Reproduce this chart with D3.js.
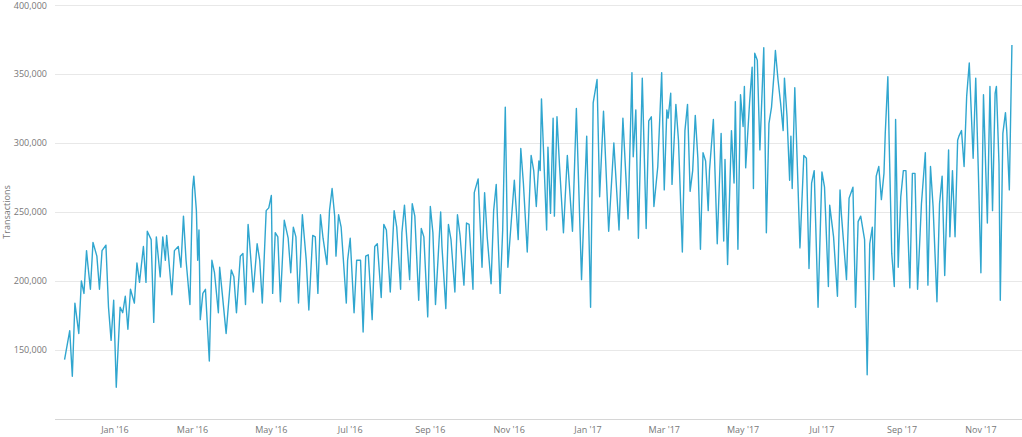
<!DOCTYPE html>
<html><head><meta charset="utf-8">
<script src="https://cdn.jsdelivr.net/npm/d3@7"></script>
<style>
body{margin:0;background:#fff}
svg{display:block}
text{font-family:"Open Sans","DejaVu Sans",sans-serif}
</style>
</head><body>
<svg id="c" width="1022" height="437"></svg>
<script>
// ---- data ----
const baseDate = "2016-01-01"; // day offsets are relative to this date
const dayOffsets = [
 -39,-35,-33,-31,-28,-26,-24,-22,-21,-19,-17,-14,-12,-10,-7,-5,-3,-1,1,2,4,6,8,10,12,15,17,19,22,24,25,28,30,32,35,37,39,40,44,46,
 49,51,53,55,58,60,61,63,64,65,66,68,70,73,75,77,80,81,83,86,90,92,94,97,99,101,103,104,107,110,112,114,117,119,121,122,124,126,128,131,134,136,138,140,142,
 145,148,150,153,155,157,159,161,164,166,168,170,171,173,175,179,180,182,185,187,190,192,194,196,199,201,203,206,208,210,213,216,218,221,222,224,228,230,232,235,
 237,239,242,244,246,248,252,253,256,258,260,263,265,267,270,272,274,277,278,281,284,286,288,291,293,295,298,300,302,304,309,312,314,316,319,322,324,326,328,329,
 330,334,335,337,339,340,342,344,347,350,354,357,361,365,368,370,373,375,378,382,386,390,393,397,400,401,403,405,408,411,413,415,417,420,
 423,425,427,428,430,431,434,436,439,441,443,445,447,449,451,453,455,457,459,460,463,466,469,471,472,474,477,479,480,482,484,486,487,488,491,493,494,495,497,499,502,504,506,508,510,511,
 513,515,517,518,520,522,523,524,526,528,530,533,535,537,539,541,544,547,549,552,553,556,559,561,562,566,568,571,573,575,577,580,582,584,586,587,589,591,593,595,596,598,599,601,603,604,606,
 608,610,612,615,617,619,621,624,627,629,631,633,636,638,640,642,645,646,648,650,652,653,655,657,659,661,663,664,666,668,670,672,675,677,679,681,682,684,685,687,689,690,692,694
];
const transactionsThousands = [
 143,164,131,184,162,200,191,222,212,194,228,218,194,222,226,181,157,186,123,143,181,177,189,165,194,184,213,199,225,199,236,230,170,232,203,232,215,233,190,222,
 225,210,247,215,183,266,276,251,215,237,172,191,194,142,215,206,177,210,191,162,208,203,177,218,220,183,241,230,192,227,215,184,251,253,262,191,235,232,185,244,231,206,239,232,184,
 248,215,179,233,232,191,248,231,212,251,267,247,218,248,239,184,215,231,177,215,215,163,218,219,172,225,227,188,241,237,192,251,239,194,235,255,201,256,247,186,
 238,232,174,254,235,183,250,225,180,241,230,192,248,233,197,242,241,194,264,274,210,264,232,198,251,270,191,237,326,210,273,230,296,271,221,291,280,254,287,280,
 332,237,297,249,318,247,319,283,235,291,236,325,201,305,181,329,346,261,323,236,300,237,318,245,351,290,324,231,347,238,316,319,254,283,
 351,266,324,318,336,270,328,302,221,309,328,265,280,320,289,223,293,287,251,280,317,227,307,229,288,212,309,271,330,223,335,312,341,282,329,355,267,365,360,295,369,235,314,326,351,367,
 346,329,309,347,319,273,305,267,340,283,224,291,289,209,271,280,181,279,268,196,255,232,189,266,249,201,260,268,181,243,247,230,132,227,239,201,276,283,259,278,307,348,302,220,196,317,210,
 261,280,280,195,278,278,194,256,293,197,283,254,185,256,276,204,295,232,280,232,302,305,309,283,334,358,312,289,347,280,206,335,242,341,251,336,341,285,186,307,322,309,266,371
];
const yTickValues = [100000,150000,200000,250000,300000,350000,400000];
const yTickLabels = ["","150,000","200,000","250,000","300,000","350,000","400,000"];
const xTickDates = ["2016-01-01","2016-03-01","2016-05-01","2016-07-01","2016-09-01","2016-11-01",
                    "2017-01-01","2017-03-01","2017-05-01","2017-07-01","2017-09-01","2017-11-01"];
const xTickLabels = ["Jan '16","Mar '16","May '16","Jul '16","Sep '16","Nov '16",
                     "Jan '17","Mar '17","May '17","Jul '17","Sep '17","Nov '17"];
const yTitle = "Transactions";

// ---- chart ----
const W = 1022, H = 437;
const plot = {left:55, right:1022, top:5, bottom:419};
const parse = d3.utcParse("%Y-%m-%d");
const base = parse(baseDate);
const day = 864e5;

const x = d3.scaleUtc()
  .domain([new Date(+base - 46.4*day), new Date(+base + 701.8*day)])
  .range([plot.left, plot.right]);
const y = d3.scaleLinear().domain([100000, 400000]).range([plot.bottom, plot.top]);

const n = Math.min(dayOffsets.length, transactionsThousands.length);
const data = d3.range(n).map(i => ({date: new Date(+base + dayOffsets[i]*day), value: transactionsThousands[i]*1000}));

const svg = d3.select("#c");

// grid
svg.append("g").selectAll("line").data(yTickValues).join("line")
  .attr("x1", plot.left).attr("x2", plot.right)
  .attr("y1", d => Math.round(y(d)) + 0.5).attr("y2", d => Math.round(y(d)) + 0.5)
  .attr("stroke", d => d === 100000 ? "#d6d6d6" : "#e8e8e8")
  .attr("stroke-width", 1);

// y labels
svg.append("g").selectAll("text").data(yTickValues).join("text")
  .attr("x", 47).attr("y", d => Math.max(y(d) + 3, 9))
  .attr("text-anchor", "end")
  .attr("font-size", 9).attr("fill", "#777")
  .text((d,i) => yTickLabels[i]);

// y title
svg.append("text")
  .attr("transform", `translate(10,${(plot.top+plot.bottom)/2}) rotate(-90)`)
  .attr("text-anchor", "middle")
  .attr("font-size", 9).attr("fill", "#777")
  .text(yTitle);

// x labels
svg.append("g").selectAll("text").data(xTickDates).join("text")
  .attr("x", d => x(parse(d)))
  .attr("y", 433)
  .attr("text-anchor", "middle")
  .attr("font-size", 9).attr("fill", "#777")
  .text((d,i) => xTickLabels[i]);

// line
const line = d3.line().x(d => x(d.date)).y(d => y(d.value)).curve(d3.curveLinear);
svg.append("path").datum(data)
  .attr("d", line)
  .attr("fill", "none")
  .attr("stroke", "#30a6cf")
  .attr("stroke-width", 1.4)
  .attr("stroke-linejoin", "round");
</script>
</body></html>
